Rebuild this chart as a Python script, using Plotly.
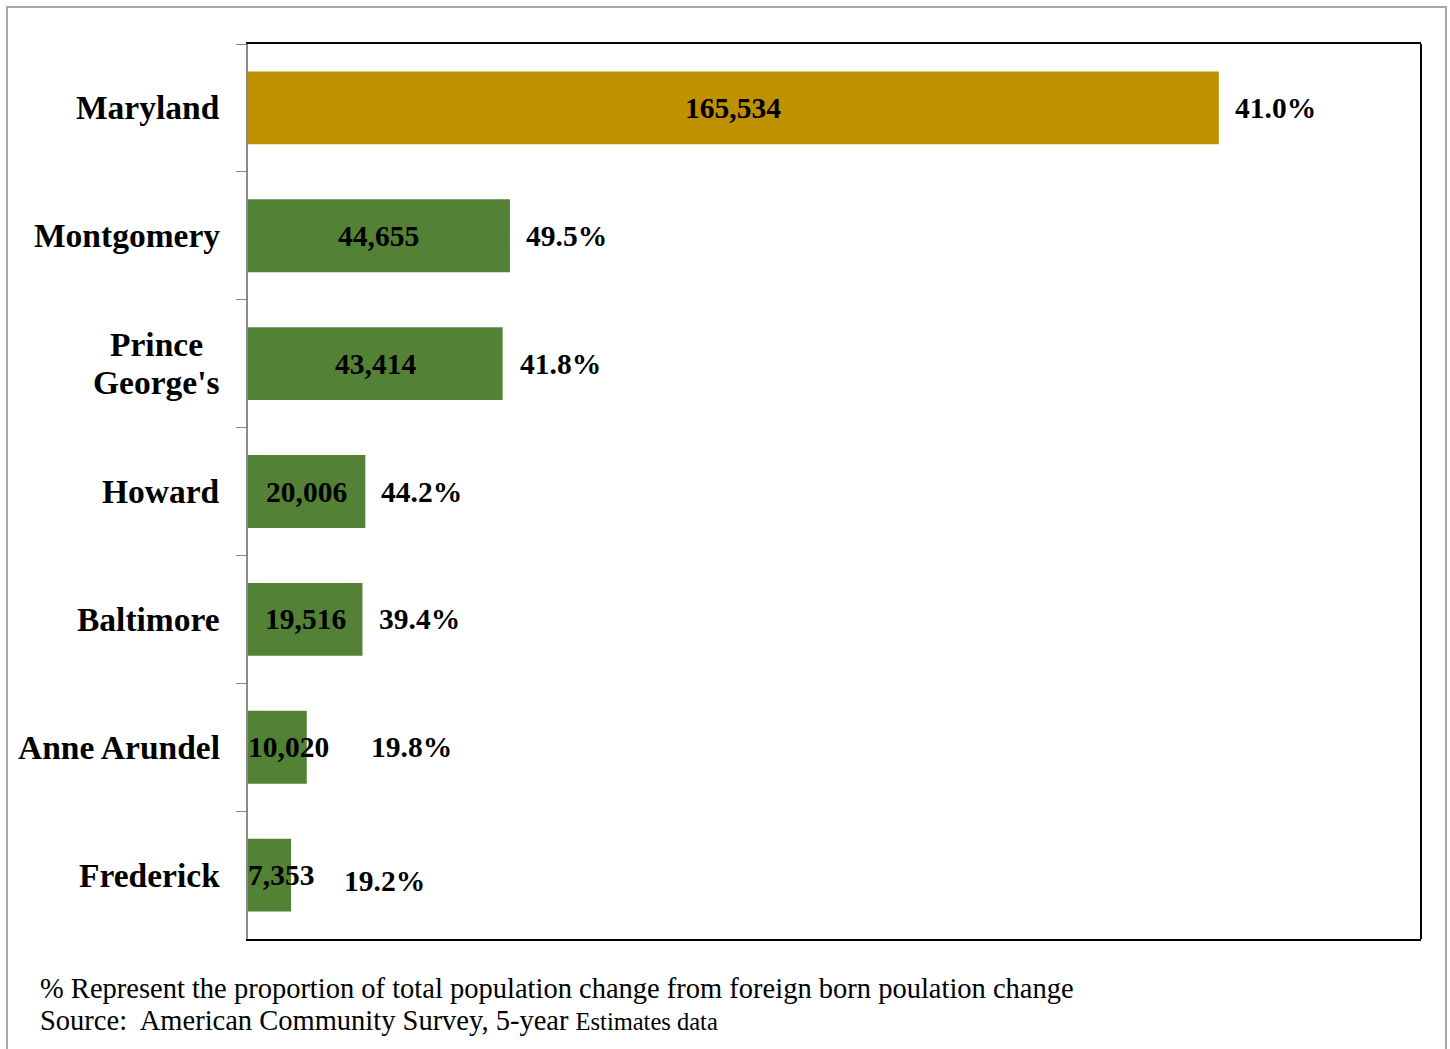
import plotly.graph_objects as go

categories = ["Maryland", "Montgomery", "Prince<br>George's", "Howard", "Baltimore", "Anne Arundel", "Frederick"]
values = [165534, 44655, 43414, 20006, 19516, 10020, 7353]
value_labels = ["165,534", "44,655", "43,414", "20,006", "19,516", "10,020", "7,353"]
pct_labels = ["41.0%", "49.5%", "41.8%", "44.2%", "39.4%", "19.8%", "19.2%"]
bar_colors = ["#BF9000", "#538135", "#538135", "#538135", "#538135", "#538135", "#538135"]
pct_xshift = [14, 14, 15, 14, 15, 62, 51]
pct_yshift = [0, 0, 0, 0, 0, 0, -6]
footer_lines = [
    "% Represent the proportion of total population change from foreign born poulation change",
    "Source:  American Community Survey, 5-year <span style=\"font-size:24.5px\">Estimates data</span>",
]

FONT = "Liberation Serif"
W, H = 1450, 1049
L, R, T, B = 248, 29, 44, 110
PW, PH = W - L - R, H - T - B
LINE_GAP = 38

def px_to_paper_x(px):
    return (px - L) / PW

def px_to_paper_y(py):
    return (H - B - py) / PH

fig = go.Figure()
fig.add_trace(go.Bar(
    y=categories, x=values, orientation="h",
    marker=dict(color=bar_colors, line=dict(width=0)),
    hoverinfo="skip",
))

annotations = []
xmax = 200000
for cat, v, vl, pl, xs, ys in zip(categories, values, value_labels, pct_labels, pct_xshift, pct_yshift):
    small = v < 15000
    annotations.append(dict(
        x=0 if small else v / 2, y=cat, xref="x", yref="y", text=vl, showarrow=False,
        xanchor="left" if small else "center", yanchor="middle",
        xshift=-2 if small else 0,
        font=dict(family=FONT, size=29.5, color="black", weight="bold"),
    ))
    annotations.append(dict(
        x=v, y=cat, xref="x", yref="y", text=pl, showarrow=False,
        xanchor="left", yanchor="middle", xshift=xs, yshift=ys,
        font=dict(family=FONT, size=29.5, color="black", weight="bold"),
    ))
    parts = cat.split("<br>")
    n = len(parts)
    for j, part in enumerate(parts):
        annotations.append(dict(
            x=px_to_paper_x(222), y=cat, xref="paper", yref="y", text=part, showarrow=False,
            xanchor="right" if n == 1 else "center", yanchor="middle", align="center",
            yshift=((n - 1) / 2 - j) * LINE_GAP,
            xshift=0 if n == 1 else -66,
            font=dict(family=FONT, size=33.5, color="black", weight="bold"),
        ))

for i, line in enumerate(footer_lines):
    annotations.append(dict(
        x=px_to_paper_x(38), y=px_to_paper_y(988 + 32 * i), xref="paper", yref="paper",
        text=line, showarrow=False, xanchor="left", yanchor="middle", align="left",
        font=dict(family=FONT, size=28.5, color="black"),
    ))

shapes = [
    dict(type="rect", xref="paper", yref="paper",
         x0=px_to_paper_x(7), x1=px_to_paper_x(1446),
         y0=px_to_paper_y(1070), y1=px_to_paper_y(7),
         line=dict(color="#A6A6A6", width=2), fillcolor="rgba(0,0,0,0)", layer="below"),
    dict(type="line", xref="paper", yref="paper", x0=1, x1=1, y0=0, y1=1,
         line=dict(color="black", width=2)),
]

fig.update_layout(
    width=W, height=H,
    margin=dict(l=L, r=R, t=T, b=B),
    paper_bgcolor="white", plot_bgcolor="white",
    showlegend=False, bargap=0.43,
    annotations=annotations, shapes=shapes,
    xaxis=dict(range=[0, xmax], showgrid=False, zeroline=False, showticklabels=False,
               showline=True, mirror=True, linecolor="black", linewidth=2, ticks=""),
    yaxis=dict(autorange="reversed", categoryorder="array", categoryarray=categories,
               showgrid=False, zeroline=False, showticklabels=False,
               showline=True, linecolor="#888888", linewidth=2,
               ticks="outside", tickson="boundaries", ticklen=10, tickcolor="#888888", tickwidth=1),
)

fig.write_html("out.html", config={"displayModeBar": False},
               post_script="document.body.style.margin='0px';")
